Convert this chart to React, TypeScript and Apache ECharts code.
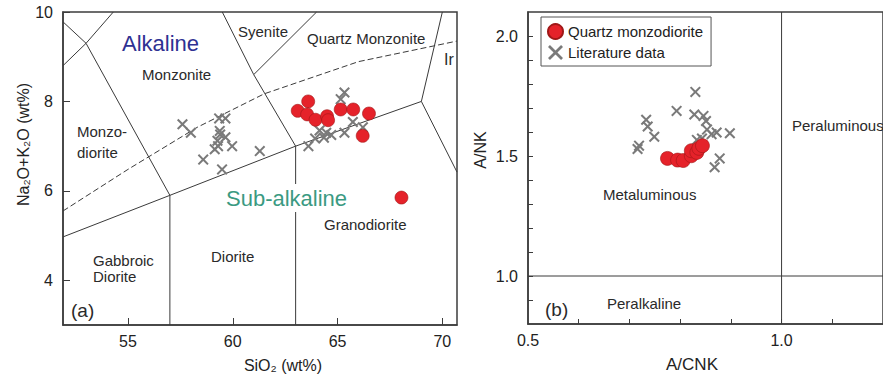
import React, { useEffect, useRef } from "react";
import * as echarts from "echarts";

// ---------- data ----------
// (a) TAS diagram: SiO2 vs Na2O+K2O
const qmzTAS: number[][] = [
  [63.6, 8.0], [63.1, 7.79], [63.55, 7.71], [63.95, 7.59], [64.5, 7.67], [64.55, 7.58],
  [65.15, 7.82], [65.75, 7.82], [66.5, 7.73], [66.2, 7.23], [68.05, 5.85],
];
const litTAS: number[][] = [
  [57.6, 7.49], [58.0, 7.3], [59.35, 7.62], [59.65, 7.62], [59.38, 7.34], [59.4, 7.26],
  [59.65, 7.2], [59.27, 7.12], [59.14, 6.93], [59.3, 7.0], [59.97, 7.0], [58.59, 6.7],
  [59.49, 6.48], [61.29, 6.89], [65.33, 8.2], [65.15, 8.05], [65.73, 7.54], [66.21, 7.42],
  [65.33, 7.3], [64.46, 7.3], [64.14, 7.35], [64.7, 7.25], [64.35, 7.19], [63.93, 7.17],
  [63.61, 7.0],
];
// field boundaries (solid)
const tasBoundaries: number[][][] = [
  [[51.9, 9.78], [53, 9.3], [57, 5.9], [57, 3]],
  [[51.9, 8.8], [53, 9.3], [54.3, 10]],
  [[51.9, 4.97], [57, 5.9], [63, 7], [69, 8]],
  [[63, 3], [63, 7], [61, 8.6], [59.5, 10]],
  [[61, 8.6], [64, 10]],
  [[70, 10], [69, 8], [70.7, 6.42]],
];
// Irvine & Baragar alkaline / sub-alkaline line (dashed)
const irvineLine: number[][] = [
  [51.9, 5.55], [55, 6.48], [58.3, 7.42], [61.5, 8.17], [66, 8.89], [70.7, 9.35],
];
const tasXTicks = [55, 60, 65, 70];
const tasYTicks = [4, 6, 8, 10];

// (b) A/CNK vs A/NK
const qmzANK: number[][] = [
  [0.775, 1.49], [0.795, 1.483], [0.806, 1.481], [0.822, 1.501], [0.822, 1.522],
  [0.833, 1.515], [0.837, 1.532], [0.844, 1.543],
];
const litANK: number[][] = [
  [0.83, 1.767], [0.793, 1.688], [0.828, 1.673], [0.846, 1.667], [0.851, 1.646],
  [0.733, 1.651], [0.736, 1.623], [0.749, 1.58], [0.719, 1.543], [0.716, 1.529],
  [0.898, 1.595], [0.872, 1.598], [0.862, 1.591], [0.853, 1.61], [0.843, 1.573],
  [0.833, 1.567], [0.878, 1.49], [0.868, 1.453],
];
const ankBoundaries: number[][][] = [
  [[1.0, 0.8], [1.0, 2.1]],
  [[0.5, 1.0], [1.2, 1.0]],
];
const ankXTicks = [0.6, 0.7, 0.8, 0.9, 1.0, 1.1];
const ankXLabels = [0.5, 1.0];
const ankYTicks = [0.9, 1.0, 1.1, 1.2, 1.3, 1.4, 1.5, 1.6, 1.7, 1.8, 1.9, 2.0];
const ankYLabels = [1.0, 1.5, 2.0];

const SERIES_QMZ = "Quartz monzodiorite";
const SERIES_LIT = "Literature data";

const CROSS =
  "path://M1.3,0 L5,3.7 L8.7,0 L10,1.3 L6.3,5 L10,8.7 L8.7,10 L5,6.3 L1.3,10 L0,8.7 L3.7,5 L0,1.3 Z";

const FONT = "'Liberation Sans', Arial, sans-serif";
const AX = "#3c3c3c";
const LINE = "#3a3a3a";
const RED = "#e5222a";
const GRAY = "#7a7a7a";

function axisCommon() {
  return {
    axisLine: { show: true, onZero: false, lineStyle: { color: AX, width: 1.5 } },
    splitLine: { show: false },
  };
}

function txt(text: string, x: number, y: number, size: number, color = "#2a2a2a", extra: any = {}) {
  return {
    type: "text",
    x,
    y,
    z: 100,
    silent: true,
    style: {
      text,
      fill: color,
      font: `${size}px ${FONT}`,
      verticalAlign: "middle",
      align: "left",
      ...extra,
    },
  };
}

export default function App() {
  const ref = useRef<HTMLDivElement>(null);
  useEffect(() => {
    if (!ref.current) return;
    const chart = echarts.init(ref.current, null, { renderer: "svg" });

    const lineSeries = (data: number[][], idx: number, dashed = false) => ({
      type: "line",
      xAxisIndex: idx,
      yAxisIndex: idx,
      data,
      symbol: "none",
      silent: true,
      z: 1,
      lineStyle: { color: LINE, width: 1, type: dashed ? [6, 3] : "solid" },
    });

    const option: any = {
      animation: false,
      backgroundColor: "#fff",
      textStyle: { fontFamily: FONT },
      grid: [
        { left: 63, top: 12, width: 394, height: 313, show: true, borderColor: AX, borderWidth: 1.5, backgroundColor: "transparent" },
        { left: 528, top: 12, width: 361, height: 313, show: true, borderColor: AX, borderWidth: 1.5, backgroundColor: "transparent" },
      ],
      xAxis: [
        {
          ...axisCommon(),
          type: "value",
          gridIndex: 0,
          min: 51.9,
          max: 70.7,
          name: "SiO\u2082 (wt%)",
          nameLocation: "middle",
          nameGap: 32,
          nameTextStyle: { color: "#222", fontSize: 16, fontFamily: FONT, padding: [0, 0, 0, 46] },
          axisTick: { show: true, inside: true, length: 7, lineStyle: { color: AX, width: 1 }, customValues: tasXTicks },
          axisLabel: { color: "#222", fontSize: 16, fontFamily: FONT, margin: 8, customValues: tasXTicks },
        },
        {
          ...axisCommon(),
          type: "value",
          gridIndex: 1,
          min: 0.5,
          max: 1.2,
          name: "A/CNK",
          nameLocation: "middle",
          nameGap: 32,
          nameTextStyle: { color: "#222", fontSize: 17, fontFamily: FONT, padding: [0, 27, 0, 0] },
          axisTick: { show: true, inside: true, length: 5, lineStyle: { color: AX, width: 1 }, customValues: ankXTicks },
          axisLabel: {
            color: "#222", fontSize: 16, fontFamily: FONT, margin: 8, customValues: ankXLabels,
            formatter: (v: number) => v.toFixed(1),
          },
        },
      ],
      yAxis: [
        {
          ...axisCommon(),
          type: "value",
          gridIndex: 0,
          min: 3,
          max: 10,
          name: "Na\u2082O+K\u2082O (wt%)",
          nameLocation: "middle",
          nameGap: 32,
          nameTextStyle: { color: "#222", fontSize: 16, fontFamily: FONT, padding: [0, 0, 0, 48] },
          axisTick: { show: true, inside: true, length: 7, lineStyle: { color: AX, width: 1 }, customValues: tasYTicks },
          axisLabel: { color: "#222", fontSize: 16, fontFamily: FONT, margin: 10, customValues: tasYTicks },
        },
        {
          ...axisCommon(),
          type: "value",
          gridIndex: 1,
          min: 0.8,
          max: 2.1,
          name: "A/NK",
          nameLocation: "middle",
          nameGap: 40,
          nameTextStyle: { color: "#222", fontSize: 16, fontFamily: FONT, padding: [0, 0, 0, 36] },
          axisTick: { show: true, inside: true, length: 5, lineStyle: { color: AX, width: 1 }, customValues: ankYTicks },
          axisLabel: {
            color: "#222", fontSize: 16, fontFamily: FONT, margin: 10, customValues: ankYLabels,
            formatter: (v: number) => v.toFixed(1),
          },
        },
      ],
      legend: {
        orient: "vertical",
        left: 541,
        top: 17,
        padding: [6, 8, 6, 6],
        itemGap: 5,
        itemWidth: 15,
        itemHeight: 15,
        borderColor: "#555",
        borderWidth: 1,
        borderRadius: 0,
        backgroundColor: "#fff",
        textStyle: { fontSize: 15, color: "#222", fontFamily: FONT },
        data: [
          { name: SERIES_QMZ, icon: "circle" },
          { name: SERIES_LIT, icon: CROSS },
        ],
      },
      series: [
        ...tasBoundaries.map((d) => lineSeries(d, 0)),
        lineSeries(irvineLine, 0, true),
        ...ankBoundaries.map((d) => lineSeries(d, 1)),
        {
          type: "scatter", name: SERIES_LIT, xAxisIndex: 0, yAxisIndex: 0, data: litTAS,
          symbol: CROSS, symbolSize: 11, itemStyle: { color: GRAY, opacity: 1 }, z: 3,
        },
        {
          type: "scatter", name: SERIES_LIT, xAxisIndex: 1, yAxisIndex: 1, data: litANK,
          symbol: CROSS, symbolSize: 11, itemStyle: { color: GRAY, opacity: 1 }, z: 3,
        },
        {
          type: "scatter", name: SERIES_QMZ, xAxisIndex: 0, yAxisIndex: 0, data: qmzTAS,
          symbol: "circle", symbolSize: 13,
          itemStyle: { color: RED, borderColor: "#a01818", borderWidth: 0.6, opacity: 1 }, z: 4,
        },
        {
          type: "scatter", name: SERIES_QMZ, xAxisIndex: 1, yAxisIndex: 1, data: qmzANK,
          symbol: "circle", symbolSize: 14,
          itemStyle: { color: RED, borderColor: "#a01818", borderWidth: 0.6, opacity: 1 }, z: 4,
        },
      ],
      graphic: [
        txt("Alkaline", 122, 43, 22, "#2e3192"),
        txt("Syenite", 238, 31, 15),
        txt("Quartz Monzonite", 307, 38, 15),
        txt("Monzonite", 142, 74, 15),
        txt("Ir", 444, 59, 16),
        txt("Monzo-\ndiorite", 77, 142, 15, "#2a2a2a", { lineHeight: 21 }),
        txt("Sub-alkaline", 224, 198, 22, "#3b9a82", { backgroundColor: "#fff", padding: [3, 2, 3, 2] }),
        txt("Granodiorite", 324, 224, 15),
        txt("Gabbroic\nDiorite", 93, 268, 15, "#2a2a2a", { lineHeight: 16 }),
        txt("Diorite", 211, 256, 15),
        txt("(a)", 71, 310, 19),
        txt("Metaluminous", 603, 194, 15),
        txt("Peraluminous", 792, 125, 15),
        txt("Peralkaline", 607, 303, 15),
        txt("(b)", 545, 309, 19),
      ],
    };

    chart.setOption(option);
    return () => chart.dispose();
  }, []);

  return (
    <div
      ref={ref}
      style={{ position: "fixed", left: 0, top: 0, width: 883, height: 378, background: "#fff" }}
    />
  );
}
